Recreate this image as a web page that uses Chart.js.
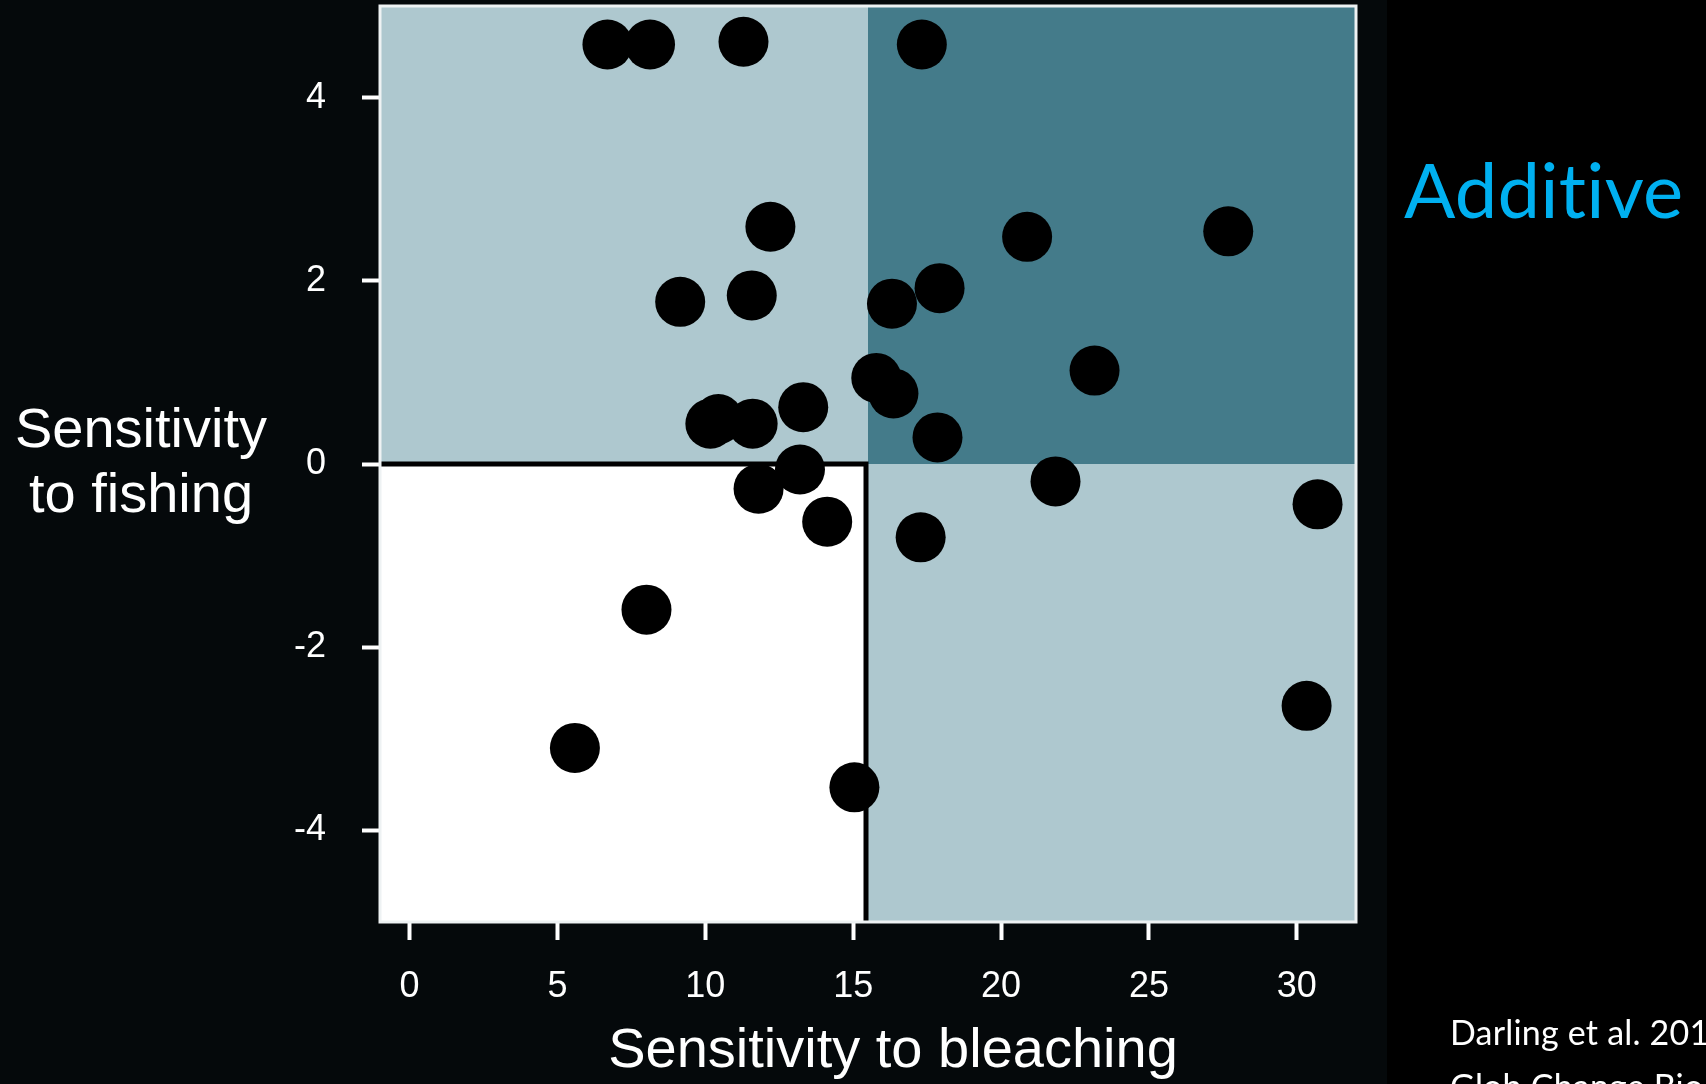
<!DOCTYPE html>
<html>
<head>
<meta charset="utf-8">
<script src="https://cdn.jsdelivr.net/npm/chart.js@4.4.1/dist/chart.umd.min.js"></script>
<style>
  html, body { margin: 0; padding: 0; background: #000; overflow: hidden; }
  canvas { display: block; }
</style>
</head>
<body>
<canvas id="chart" width="1706" height="1084"></canvas>
<script>
// values
const bleaching = [6.69, 8.13, 11.29, 17.32, 12.2, 20.88, 27.68, 9.15, 11.57, 16.31, 17.92, 23.16,
  15.78, 16.36, 13.31, 10.44, 10.17, 11.6, 17.85, 13.2, 11.8, 14.12, 21.84, 30.7, 17.28, 8.01, 5.59, 15.04, 30.33];
const fishing = [4.58, 4.58, 4.61, 4.58, 2.59, 2.48, 2.54, 1.77, 1.84, 1.75, 1.92, 1.02,
  0.94, 0.77, 0.62, 0.49, 0.44, 0.44, 0.29, -0.06, -0.27, -0.63, -0.19, -0.44, -0.8, -1.59, -3.1, -3.53, -2.64];
const xTicks = [0, 5, 10, 15, 20, 25, 30];
const yTicks = [-4, -2, 0, 2, 4];
const xSplit = 15.5; // quadrant boundaries
const ySplit = 0;

const points = bleaching.map((b, i) => ({ x: b, y: fishing[i] }));

const W = 1706, H = 1084;
const axisFont = "'Liberation Sans', Arial, sans-serif";

// slide background + the darker panel the plot sits on
const backdrop = {
  id: "backdrop",
  beforeDraw(chart) {
    const ctx = chart.ctx;
    ctx.save();
    ctx.fillStyle = "#000";
    ctx.fillRect(0, 0, W, H);
    ctx.fillStyle = "#05090b";
    ctx.fillRect(0, 0, 1387, H);
    ctx.restore();
  },
};

const quadrants = {
  id: "quadrants",
  beforeDatasetsDraw(chart) {
    const { ctx, chartArea: a, scales } = chart;
    const xs = scales.x.getPixelForValue(xSplit);
    const y0 = scales.y.getPixelForValue(ySplit);
    ctx.save();
    ctx.fillStyle = "#aec8cf";
    ctx.fillRect(a.left, a.top, a.width, a.height);
    ctx.fillStyle = "#447b8a";
    ctx.fillRect(xs, a.top, a.right - xs, y0 - a.top);
    ctx.fillStyle = "#ffffff";
    ctx.fillRect(a.left, y0, xs - a.left, a.bottom - y0);
    // black edge round the white box
    ctx.strokeStyle = "#000";
    ctx.lineWidth = 5;
    ctx.beginPath();
    ctx.moveTo(a.left, y0);
    ctx.lineTo(xs - 2, y0);
    ctx.lineTo(xs - 2, a.bottom);
    ctx.stroke();
    // frame
    ctx.strokeStyle = "#eef2f3";
    ctx.lineWidth = 3;
    ctx.strokeRect(a.left, a.top, a.width, a.height);
    ctx.restore();
  },
};

const labels = {
  id: "labels",
  afterDraw(chart) {
    const ctx = chart.ctx;
    ctx.save();
    ctx.fillStyle = "#fff";
    ctx.font = "56px " + axisFont;
    ctx.textBaseline = "alphabetic";
    ctx.textAlign = "center";
    ctx.fillText("Sensitivity", 141, 447);
    ctx.fillText("to fishing", 141, 512);
    ctx.fillText("Sensitivity to bleaching", 893, 1067);

    ctx.textAlign = "left";
    ctx.letterSpacing = "0.2px"; // keeps "ti" from joining
    ctx.fillStyle = "#00b0f0";
    ctx.font = "76px Lato, 'Open Sans', sans-serif";
    ctx.fillText("Additive", 1404, 218);

    ctx.fillStyle = "#fff";
    ctx.font = "34px Lato, 'Open Sans', sans-serif";
    ctx.fillText("Darling et al. 2013", 1450, 1045);
    ctx.fillText("Glob Change Biol", 1450, 1099);
    ctx.restore();
  },
};

new Chart(document.getElementById("chart"), {
  type: "scatter",
  data: {
    datasets: [
      {
        data: points,
        backgroundColor: "#000",
        borderWidth: 0,
        pointRadius: 25,
        pointHoverRadius: 25,
      },
    ],
  },
  options: {
    responsive: false,
    animation: false,
    devicePixelRatio: 1,
    layout: { autoPadding: false, padding: { top: 6, right: W - 1356, bottom: 0, left: 0 } },
    plugins: {
      legend: { display: false },
      tooltip: { enabled: false },
    },
    scales: {
      x: {
        type: "linear",
        min: -1,
        max: 32,
        afterBuildTicks: (s) => {
          s.ticks = xTicks.map((v) => ({ value: v }));
        },
        afterFit: (s) => {
          s.height = H - 922;
          s.paddingLeft = 0;
          s.paddingRight = 0;
        },
        border: { display: false },
        grid: {
          drawOnChartArea: false,
          drawTicks: true,
          tickLength: 18,
          tickWidth: 4,
          tickColor: "#fff",
        },
        ticks: {
          color: "#fff",
          font: { family: axisFont, size: 36 },
          padding: 25,
          maxRotation: 0,
          autoSkip: false,
          callback: (v) => String(v),
        },
      },
      y: {
        type: "linear",
        min: -5,
        max: 5,
        afterBuildTicks: (s) => {
          s.ticks = yTicks.map((v) => ({ value: v }));
        },
        afterFit: (s) => {
          s.width = 380;
          s.paddingTop = 0;
          s.paddingBottom = 0;
        },
        border: { display: false },
        grid: {
          drawOnChartArea: false,
          drawTicks: true,
          tickLength: 18,
          tickWidth: 4,
          tickColor: "#fff",
        },
        ticks: {
          color: "#fff",
          font: { family: axisFont, size: 36 },
          padding: 36,
          autoSkip: false,
          callback: (v) => String(v),
        },
      },
    },
  },
  plugins: [backdrop, quadrants, labels],
});
</script>
</body>
</html>
